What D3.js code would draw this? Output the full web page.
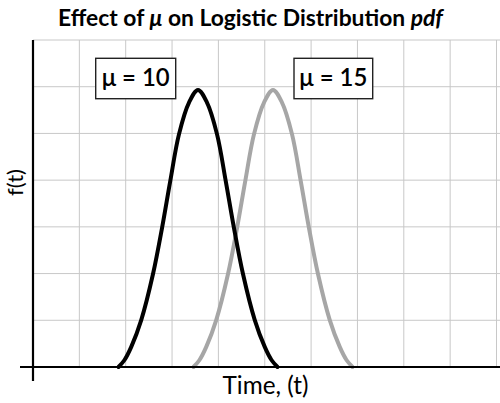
<!DOCTYPE html>
<html>
<head>
<meta charset="utf-8">
<script src="https://cdn.jsdelivr.net/npm/d3@7"></script>
<style>
  body { margin: 0; background: #fff; }
  svg { display: block; font-family: Lato, "Open Sans", "DejaVu Sans", sans-serif; }
</style>
</head>
<body>
<div id="chart"></div>
<script>
// values (t, f(t)); both curves have the same shape
var tMu10 = [4.7, 5.1, 5.55, 6.22, 7.0, 7.61, 8.15, 8.73, 9.4, 10, 10.6, 11.27, 11.85, 12.39, 13.0, 13.78, 14.45, 14.9, 15.3];
var fMu10 = [0, 0.0015, 0.0043, 0.0101, 0.0199, 0.0299, 0.0398, 0.0498, 0.0566, 0.0593, 0.0566, 0.0498, 0.0398, 0.0299, 0.0199, 0.0101, 0.0043, 0.0015, 0];
var tMu15 = [9.7, 10.1, 10.55, 11.22, 12.0, 12.61, 13.15, 13.73, 14.4, 15, 15.6, 16.27, 16.85, 17.39, 18.0, 18.78, 19.45, 19.9, 20.3];
var fMu15 = [0, 0.0015, 0.0043, 0.0101, 0.0199, 0.0299, 0.0398, 0.0498, 0.0566, 0.0593, 0.0566, 0.0498, 0.0398, 0.0299, 0.0199, 0.0101, 0.0043, 0.0015, 0];
var seriesNames = ['μ = 10', 'μ = 15'];
var yTicks = [0.01, 0.02, 0.03, 0.04, 0.05, 0.06, 0.07];
var xGridCount = 10;

var width = 500, height = 403;
var mLeft = 33, mRight = 496.5, mTop = 40, mBottom = 367;

var svg = d3.select('#chart').append('svg')
  .attr('width', width)
  .attr('height', height);

var x = d3.scaleLinear().domain([-1, 29.9]).range([mLeft, mRight]);
var y = d3.scaleLinear().domain([0, 0.07]).range([mBottom, mTop]);

// shrink/grow a text's font size so it spans the width seen in the picture
function fit(sel, size, target) {
  sel.attr('font-size', size);
  var w = sel.node().getComputedTextLength();
  sel.attr('font-size', size * target / w);
}

// grid
var grid = svg.append('g').attr('stroke', '#c8c8c8').attr('stroke-width', 1);
grid.selectAll('line.h')
  .data(yTicks)
  .enter()
  .append('line')
  .attr('class', 'h')
  .attr('x1', mLeft).attr('x2', width)
  .attr('y1', function (d) { return y(d); })
  .attr('y2', function (d) { return y(d); });
grid.selectAll('line.v')
  .data(d3.range(1, xGridCount + 1))
  .enter()
  .append('line')
  .attr('class', 'v')
  .attr('x1', function (d) { return mLeft + d * (mRight - mLeft) / xGridCount; })
  .attr('x2', function (d) { return mLeft + d * (mRight - mLeft) / xGridCount; })
  .attr('y1', mTop).attr('y2', mBottom);

// curves
var line = d3.line()
  .x(function (d) { return x(d[0]); })
  .y(function (d) { return y(d[1]); })
  .curve(d3.curveCatmullRom.alpha(0.5));

var series = [
  { pts: d3.zip(tMu10, fMu10), color: '#000' },
  { pts: d3.zip(tMu15, fMu15), color: '#a6a6a6' }
];

svg.append('g').selectAll('path')
  .data(series.slice().reverse())
  .enter()
  .append('path')
  .attr('d', function (d) { return line(d.pts); })
  .attr('fill', 'none')
  .attr('stroke', function (d) { return d.color; })
  .attr('stroke-width', 4)
  .attr('stroke-linecap', 'round');

// axes
svg.append('line')
  .attr('x1', 20).attr('x2', width)
  .attr('y1', mBottom).attr('y2', mBottom)
  .attr('stroke', '#000').attr('stroke-width', 2.2);
svg.append('line')
  .attr('x1', mLeft).attr('x2', mLeft)
  .attr('y1', mTop).attr('y2', 381)
  .attr('stroke', '#000').attr('stroke-width', 2.2);

// labels in boxes
var boxes = [
  { x: 95.7, w: 80, label: seriesNames[0] },
  { x: 294, w: 78.7, label: seriesNames[1] }
];
var lab = svg.append('g').selectAll('g')
  .data(boxes)
  .enter()
  .append('g');
lab.append('rect')
  .attr('x', function (d) { return d.x; })
  .attr('y', 58.3)
  .attr('width', function (d) { return d.w; })
  .attr('height', 40.4)
  .attr('fill', '#fff')
  .attr('stroke', '#222')
  .attr('stroke-width', 1.4);
lab.append('text')
  .attr('x', function (d) { return d.x + d.w / 2; })
  .attr('y', 85.5)
  .attr('text-anchor', 'middle')
  .attr('font-weight', 600)
  .text(function (d) { return d.label; })
  .each(function () { fit(d3.select(this), 20, 68); });

// title
var title = svg.append('text')
  .attr('x', 250.5)
  .attr('y', 26)
  .attr('text-anchor', 'middle')
  .attr('font-weight', 'bold');
title.append('tspan').text('Effect of ');
title.append('tspan').attr('font-style', 'italic').text('μ');
title.append('tspan').text(' on Logistic Distribution ');
title.append('tspan').attr('font-style', 'italic').text('pdf');
fit(title, 20, 385);

fit(svg.append('text')
  .attr('x', 265.5)
  .attr('y', 394)
  .attr('text-anchor', 'middle')
  .text('Time, (t)'), 20, 86);

fit(svg.append('text')
  .attr('transform', 'translate(23,182.5) rotate(-90)')
  .attr('text-anchor', 'middle')
  .text('f(t)'), 20, 27);
</script>
</body>
</html>
